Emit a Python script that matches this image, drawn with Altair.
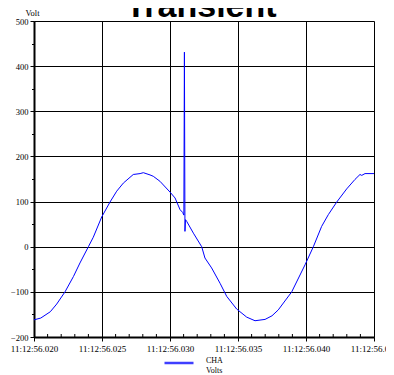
import altair as alt
import pandas as pd

# time in milliseconds after 11:12:56, voltage in volts
ms = [20.0, 20.5, 21.2, 21.67, 22.28, 22.9, 23.38, 24.0, 24.36, 24.98, 25.59, 26.08,
      26.57, 27.3, 27.8, 28.04, 28.53, 28.77, 29.26, 30.0, 30.37, 30.74, 30.93, 31.02,
      31.06, 31.10, 31.14, 31.23, 31.72, 32.33, 32.57, 33.06, 33.68, 34.17, 34.9, 35.64,
      36.25, 36.99, 37.5, 37.96, 38.95, 39.93, 40.54, 41.15, 41.64, 42.26, 42.99, 43.6,
      43.97, 44.1, 44.34, 45.0]
volts = [-162, -158, -144, -127, -100, -66, -36, 0, 21, 66, 99, 123,
         141, 160, 162, 164, 159, 156, 145, 121, 108, 82, 76, 70,
         431, 34, 60, 56, 30, 0, -25, -47, -81, -110, -138, -156,
         -164, -161, -153, -140, -100, -40, 0, 45, 71, 99, 128, 149,
         160, 158, 162, 162]
series = ["CHA"] * len(ms)
title_text = ["Transient"]

x_ticks = list(range(20, 46))
x_minor = [t for t in x_ticks if t % 5 != 0]
y_ticks = list(range(-200, 501, 50))

W, H = 340, 316
SERIF = "Liberation Serif"

df = pd.DataFrame({"ms": ms, "volts": volts, "series": series})
minor_df = pd.DataFrame({"ms": x_minor})
title_df = pd.DataFrame({"t": title_text})

x_scale = alt.Scale(domain=[20, 45], nice=False, zero=False)
y_scale = alt.Scale(domain=[-200, 500], nice=False, zero=False)

x_axis = alt.Axis(
    title=None,
    values=x_ticks,
    labelExpr="datum.value % 5 == 0 ? '11:12:56.0' + format(datum.value, 'd') : ''",
    labelFont=SERIF, labelFontSize=9, labelColor="black",
    labelFlush=False, labelOverlap=False, labelPadding=3,
    tickSize={"condition": {"test": "datum.value % 5 == 0", "value": 4}, "value": 0},
    tickColor="black", tickWidth=1,
    grid=True,
    gridOpacity={"condition": {"test": "datum.value % 5 == 0", "value": 1}, "value": 0},
    gridColor="black", gridWidth=1,
    domainColor="black", domainWidth=2,
)

y_axis = alt.Axis(
    title="Volt", titleAngle=0, titleX=-2, titleY=-9,
    titleAlign="center", titleBaseline="middle",
    titleFont=SERIF, titleFontSize=8.5, titleFontWeight="normal", titleColor="black",
    values=y_ticks,
    labelExpr="datum.value % 100 == 0 ? format(datum.value, 'd') : ''",
    labelFont=SERIF, labelFontSize=8.5, labelColor="black",
    labelFlush=False, labelOverlap=False, labelPadding=2,
    tickSize={"condition": {"test": "datum.value % 100 == 0", "value": 4}, "value": 2.5},
    tickColor="black", tickWidth=1,
    grid=True,
    gridOpacity={"condition": {"test": "datum.value % 100 == 0", "value": 1}, "value": 0},
    gridColor="black", gridWidth=1,
    domainColor="black", domainWidth=2,
)

line = alt.Chart(df).mark_line(strokeWidth=1, interpolate="linear").encode(
    x=alt.X("ms:Q", scale=x_scale, axis=x_axis),
    y=alt.Y("volts:Q", scale=y_scale, axis=y_axis),
    color=alt.Color(
        "series:N",
        scale=alt.Scale(domain=["CHA"], range=["#0000ff"]),
        legend=alt.Legend(
            title=None, orient="none", legendX=129, legendY=326,
            symbolType="stroke", symbolSize=841, symbolStrokeWidth=2.5,
            symbolOpacity=0.75, padding=0, labelOffset=11,
            labelExpr="['CHA', 'Volts']",
            labelBaseline="alphabetic",
            labelFont=SERIF, labelFontSize=8, labelColor="black",
        ),
    ),
    order=alt.Order("ms:Q"),
)

minor = alt.Chart(minor_df).mark_rule(color="black", strokeWidth=1).encode(
    x=alt.X("ms:Q", scale=x_scale, axis=x_axis),
    y=alt.value(H),
    y2=alt.value(H - 3),
)

title = alt.Chart(title_df).mark_text(
    font="Liberation Sans", fontSize=34, fontWeight="bold", color="black",
    align="center", baseline="alphabetic",
).encode(
    text="t:N",
    x=alt.value(W / 2 - 3),
    y=alt.value(-4),
)

chart = alt.layer(minor, line, title).properties(
    width=W, height=H,
    autosize=alt.AutoSizeParams(type="none"),
    padding={"left": 26, "top": 13, "right": 12, "bottom": 36},
).configure_view(stroke=None).configure(background="white")

chart.save("out.html", embed_options={"renderer": "svg", "actions": False})
